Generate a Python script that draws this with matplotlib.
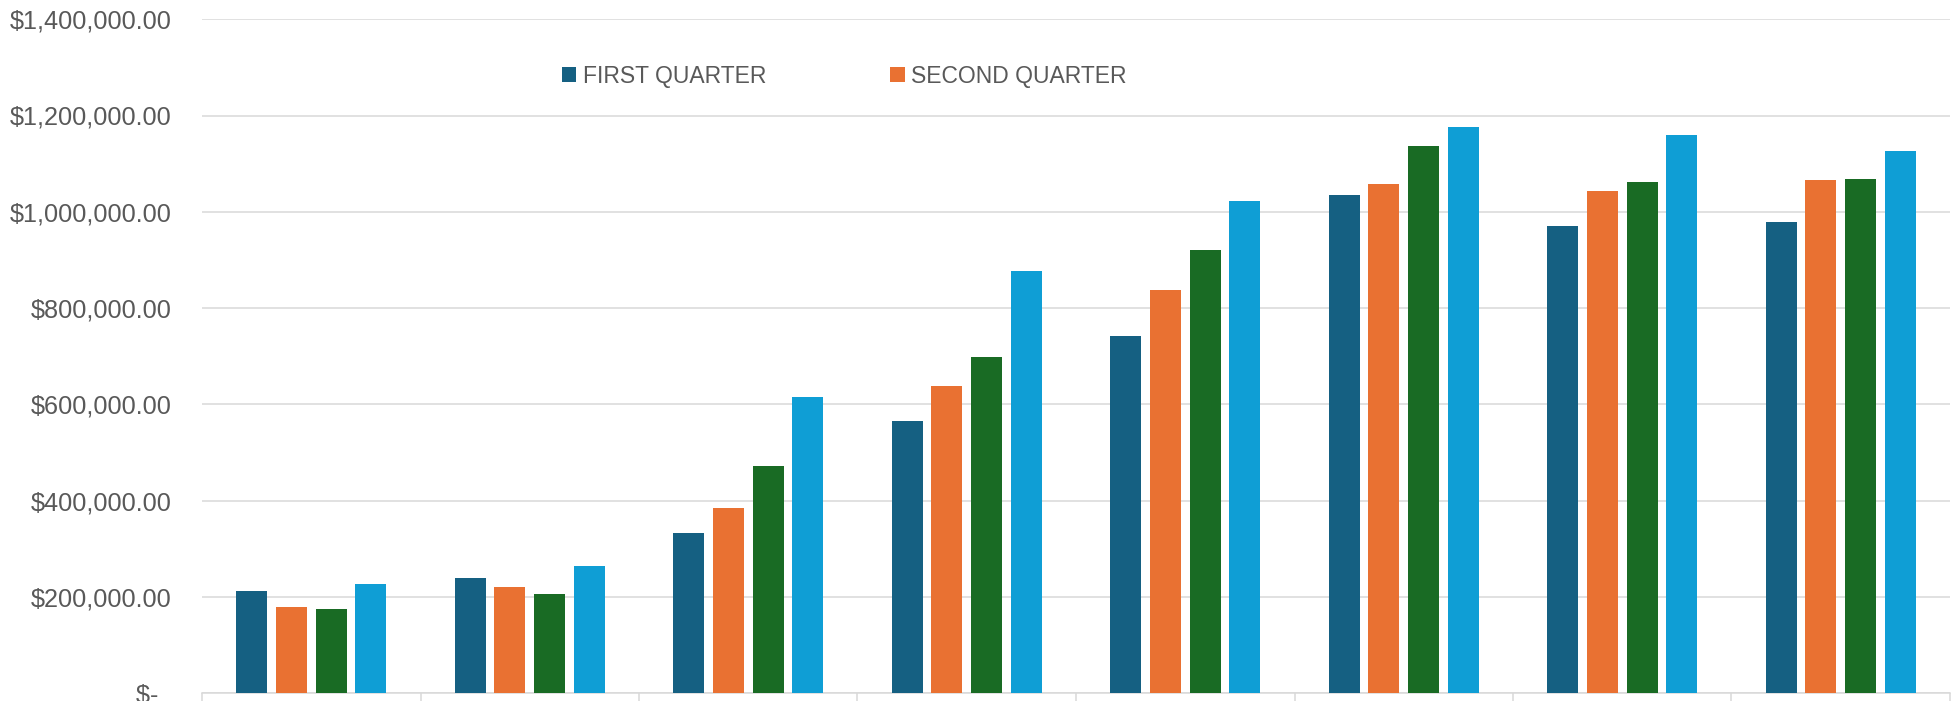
import numpy as np
import matplotlib
matplotlib.use("Agg")
import matplotlib.pyplot as plt
from matplotlib.ticker import FuncFormatter

# data (8 groups, 4 quarters each)
groups = ["1", "2", "3", "4", "5", "6", "7", "8"]
first_quarter = [211800, 239500, 332900, 564900, 741400, 1034300, 970500, 978800]
second_quarter = [179900, 220100, 384200, 638200, 837600, 1058400, 1043200, 1066700]
third_quarter = [174500, 206200, 472700, 699100, 920700, 1136000, 1062500, 1067500]
fourth_quarter = [227600, 264400, 614700, 877700, 1022400, 1176100, 1158900, 1126300]
series_names = ["FIRST QUARTER", "SECOND QUARTER", "THIRD QUARTER", "FOURTH QUARTER"]
colors = ["#156082", "#E97132", "#196B24", "#0F9ED5"]

plt.rcParams['font.family'] = ['Liberation Sans', 'DejaVu Sans']
grey = "#595959"
grid_grey = "#d9d9d9"

fig = plt.figure(figsize=(19.56, 7.01), dpi=100)
ax = fig.add_axes([202 / 1956, 1 - 693.3 / 701, (1950 - 202) / 1956, (693.3 - 19.2) / 701])

x = np.arange(len(groups))
pitch = 0.1817
width = 0.142
bars = []
for j, vals in enumerate([first_quarter, second_quarter, third_quarter, fourth_quarter]):
    b = ax.bar(x + (j - 1.5) * pitch, vals, width, color=colors[j], label=series_names[j], zorder=3)
    bars.append(b)

ax.set_ylim(0, 1400000)
ax.set_xlim(-0.5, len(groups) - 0.5)
ax.set_yticks(np.arange(0, 1400001, 200000))

def money(v, pos):
    if v == 0:
        return "$-  "
    return "${:,.2f}".format(v)

ax.yaxis.set_major_formatter(FuncFormatter(money))
ax.tick_params(axis='y', length=0, pad=21.6, labelsize=18.2, labelcolor=grey)
ax.grid(axis='y', color=grid_grey, linewidth=1.1, zorder=0)

# category separators below the axis
ax.set_xticks(np.arange(-0.5, len(groups), 1.0))
ax.set_xticklabels([])
ax.tick_params(axis='x', direction='out', length=10, width=1.1, color=grid_grey)

for side in ['top', 'right', 'left']:
    ax.spines[side].set_visible(False)
ax.spines['bottom'].set_color(grid_grey)
ax.spines['bottom'].set_linewidth(1.1)

# legend shows only the first two series in the reference
ax.legend(handles=[bars[0], bars[1]], ncol=2, frameon=False, fontsize=16.5,
          labelcolor=grey, loc='center left',
          bbox_to_anchor=(561.7 / 1956, 1 - 76.5 / 701), bbox_transform=fig.transFigure,
          borderpad=0, borderaxespad=0, handlelength=0.63, handleheight=0.63,
          handletextpad=0.3, columnspacing=5.4)

fig.savefig("out.png", dpi=100)
